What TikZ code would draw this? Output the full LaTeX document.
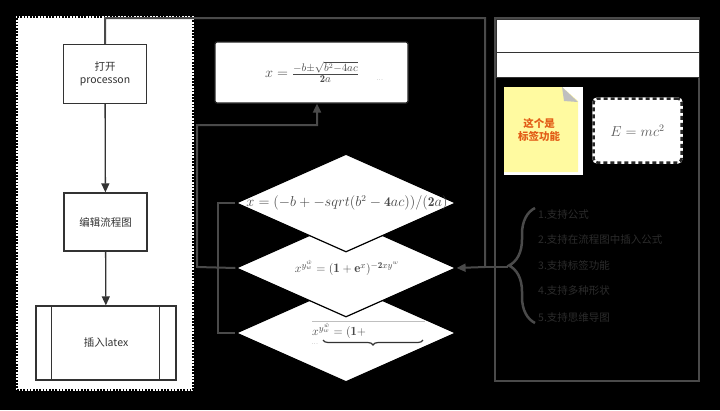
\documentclass[tikz,border=0pt]{standalone}
\usepackage{fontspec}
\usepackage{amsmath,amssymb}
\usetikzlibrary{shapes.geometric,arrows.meta,decorations.pathreplacing,calc}
\newfontfamily\cjk{Noto Sans CJK SC}
\definecolor{linec}{RGB}{74,74,74}
\definecolor{boxc}{RGB}{51,51,51}
\definecolor{stickyc}{RGB}{255,250,160}
\definecolor{stickyt}{RGB}{226,92,22}
\definecolor{listc}{RGB}{44,44,44}
\begin{document}
\begin{tikzpicture}[x=1pt,y=-1pt,
  flowbox/.style={draw=boxc,line width=1.3pt,fill=white,text=boxc,font=\cjk\fontsize{10.5}{13}\selectfont,align=center,inner sep=0pt},
  conn/.style={draw=linec,line width=2pt},
  arr/.style={-{Triangle[length=9pt,width=8pt]}},
  dia/.style={shape=diamond,draw=black,line width=1.2pt,fill=white,minimum width=220pt,minimum height=98pt,inner sep=0pt},
  mtext/.style={text=black!72,inner sep=0pt},
  listitem/.style={anchor=west,text=listc,font=\cjk\fontsize{10.5}{13}\selectfont,inner sep=0pt},
]
\fill[black] (0,0) rectangle (720,410);
\useasboundingbox (0,0) rectangle (720,410);

% left container
\node[fill=white,preaction={draw=white,line width=1.8pt,solid},draw=black,line width=1.8pt,dash pattern=on 1.6pt off 1.6pt,minimum width=176pt,minimum height=373pt,inner sep=0pt] (lane) at (105,203.5) {};

% flow boxes
\node[flowbox,minimum width=83pt,minimum height=59pt] (b1) at (105,74) {打开\\processon};
\node[flowbox,minimum width=83pt,minimum height=58pt] (b2) at (105.5,222) {编辑流程图};
\node[flowbox,minimum width=140pt,minimum height=74pt] (b3) at (106,343) {插入latex};
\draw[boxc,line width=1.3pt] ($(b3.north west)+(16,0)$) -- ($(b3.south west)+(16,0)$);
\draw[boxc,line width=1.3pt] ($(b3.north east)+(-17,0)$) -- ($(b3.south east)+(-17,0)$);
\draw[boxc,line width=1.3pt,arr] (b1) -- (b2);
\draw[boxc,line width=1.3pt,arr] (b2) -- (b3);

% formula box
\node[draw=black!85,line width=1.3pt,fill=white,rounded corners=2pt,minimum width=193pt,minimum height=61pt,inner sep=0pt] (fbox) at (311.5,72.5) {};
\node[mtext] (f0) at (312,72) {\fontsize{15}{17}\selectfont $x=\frac{-b\pm\sqrt{b^2-4ac}}{\mathbf{2}a}$};
\node[mtext,font=\tiny] (fdots) at (380,80) {...};

% diamonds
\node[dia] (d3) at (346,333) {};
\node[mtext,anchor=west] (t3) at (312,331) {\fontsize{12.5}{14}\selectfont $x^{y^{\hat w}_{w}}=(\mathbf{1}+$};
\draw[black!25,line width=0.6pt] (312,321) -- (425,321);
\draw[black!80,line width=1.2pt,decorate,decoration={brace,mirror,amplitude=5pt}] (323,340) -- (423,340);
\node[mtext,font=\tiny] (t3d) at (315,344) {...};
\node[dia] (d2) at (346,268) {};
\node[mtext] (t2) at (347,268) {\fontsize{13}{15}\selectfont $x^{y^{\hat w}_{w}}=(\mathbf{1}+\mathbf{e}^x)^{-\mathbf{2}xy^w}$};
\node[dia] (d1) at (346,203) {};
\node[mtext] (t1) at (347,203) {\fontsize{13.5}{15}\selectfont $x=(-b+-sqrt(b^2-\mathbf{4}ac))/(\mathbf{2}a)$};

% right container
\node[draw=linec,line width=2pt,minimum width=204pt,minimum height=363pt,inner sep=0pt] (rbox) at (597,199) {};
\node[fill=white,draw=boxc,line width=1pt,minimum width=203pt,minimum height=33pt,inner sep=0pt,anchor=north west] (r1) at (496,19) {};
\node[fill=white,draw=boxc,line width=1pt,minimum width=203pt,minimum height=25pt,inner sep=0pt,anchor=north west] (r2) at (496,52) {};

% sticky note
\fill[white] (504,87) rectangle (583,175);
\fill[stickyc] (504,87) -- (562,87) -- (578,101) -- (578,172) -- (504,172) -- cycle;
\fill[black!25] (562,87) -- (578,102) -- (564,101) -- cycle;
\node[text=stickyt,font=\cjk\bfseries\fontsize{10.5}{13}\selectfont,align=center,inner sep=0pt] (st) at (539,130) {这个是\\标签功能};

% E=mc^2
\node[preaction={draw=white,line width=2.5pt,solid},draw=black!85,line width=2.5pt,dash pattern=on 4pt off 3pt,fill=white,rounded corners=4pt,minimum width=88pt,minimum height=64pt,inner sep=0pt,text=black!65] (emc) at (637.5,130.5) {\fontsize{14}{16}\selectfont $E=mc^2$};

% brace list
\draw[linec,line width=2.5pt,decorate,decoration={brace,amplitude=26pt}] (535,323) -- (535,208);
\coordinate (btip) at (508,267);
\node[listitem] (l1) at (538,215) {1.支持公式};
\node[listitem] (l2) at (538,240) {2.支持在流程图中插入公式};
\node[listitem] (l3) at (538,265) {3.支持标签功能};
\node[listitem] (l4) at (538,291) {4.支持多种形状};
\node[listitem] (l5) at (538,318) {5.支持思维导图};

% connectors
\coordinate (topL) at (105,18);
\coordinate (topR) at (485,18);
\coordinate (midR) at (485,267);
\draw[conn,arr] (b1.north) -- (topL) -- (topR) -- (midR) -- (d2.east);
\draw[conn] (btip) -- (midR);

\coordinate (fl1) at (197,267);
\coordinate (fl2) at (197,125);
\coordinate (fl3) at (317,125);
\draw[conn,arr] (d2.west) -- (fl1) -- (fl2) -- (fl3) -- (fl3 |- fbox.south);

\coordinate (brk1) at (218,203);
\coordinate (brk2) at (218,333);
\draw[conn] (d1.west) -- (brk1) -- (brk2) -- (d3.west);
\end{tikzpicture}
\end{document}
